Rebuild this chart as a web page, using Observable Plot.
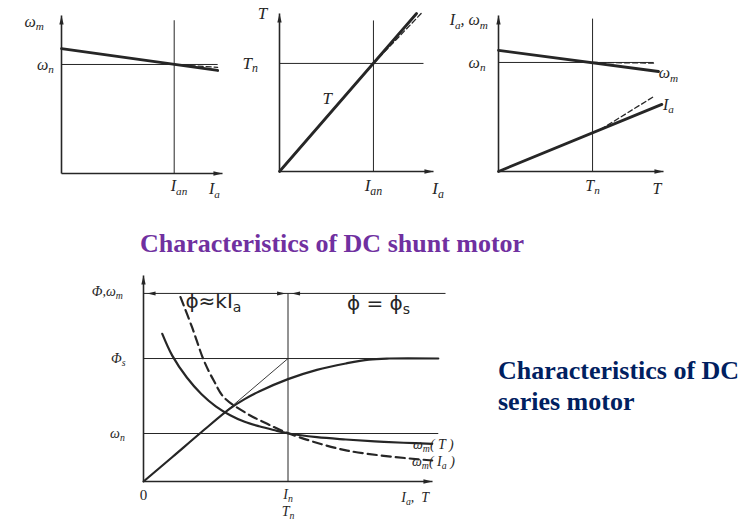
<!DOCTYPE html>
<html><head><meta charset="utf-8">
<script src="https://cdn.jsdelivr.net/npm/d3@7"></script>
<script src="https://cdn.jsdelivr.net/npm/@observablehq/plot@0.6"></script>
<style>
html,body{margin:0;padding:0;background:#fff;}
#wrap{position:relative;width:753px;height:522px;overflow:hidden;background:#fff;}
#wrap svg{position:absolute;left:0;top:0;}
.t{position:absolute;font-family:"Liberation Serif","Times New Roman",serif;font-weight:bold;font-size:26px;white-space:nowrap;}
</style></head><body><div id="wrap"></div>
<script>
// ---------- data (normalised units: 0..1 on each axis) ----------
// Shunt motor: speed vs armature current
const p1Rated = {Ian: 0.70, wn: 0.69};
const p1Speed = [{x: 0, y: 0.79}, {x: 0.97, y: 0.652}];
const p1SpeedIdeal = [{x: 0.70, y: 0.69}, {x: 0.97, y: 0.672}];
const p1Labels = [
  {x: -0.17, y: 0.96, t: "ω_m"}, {x: -0.10, y: 0.69, t: "ω_n"},
  {x: 0.73, y: -0.08, t: "I_{an}"}, {x: 0.95, y: -0.10, t: "I_a"}
];
// Shunt motor: torque vs armature current
const p2Rated = {Ian: 0.61, Tn: 0.684};
const p2Torque = [{x: 0, y: 0}, {x: 0.89, y: 1.0}];
const p2TorqueReal = [{x: 0.61, y: 0.684}, {x: 0.92, y: 1.0}];
const p2Labels = [
  {x: -0.11, y: 1.0, t: "T"}, {x: -0.19, y: 0.684, t: "T_n"},
  {x: 0.31, y: 0.46, t: "T"}, {x: 0.61, y: -0.09, t: "I_{an}"}, {x: 1.03, y: -0.11, t: "I_a"}
];
// Shunt motor: speed and current vs torque
const p3Rated = {Tn: 0.57, wn: 0.699};
const p3Speed = [{x: 0, y: 0.776}, {x: 0.97, y: 0.641}];
const p3SpeedIdeal = [{x: 0.57, y: 0.699}, {x: 0.94, y: 0.695}];
const p3Current = [{x: 0, y: 0}, {x: 0.99, y: 0.43}];
const p3CurrentIdeal = [{x: 0.62, y: 0.27}, {x: 0.94, y: 0.48}];
const p3Labels = [
  {x: -0.18, y: 0.97, t: "I_a, ω_m"}, {x: -0.13, y: 0.699, t: "ω_n"},
  {x: 1.03, y: 0.63, t: "ω_m", a: "start"}, {x: 1.03, y: 0.43, t: "I_a", a: "start"},
  {x: 0.57, y: -0.09, t: "T_n"}, {x: 0.96, y: -0.11, t: "T"}
];
// Series motor
const p4Rated = {In: 0.50, Phis: 0.597, wn: 0.233, top: 0.913};
const p4Flux = [
  {x: 0, y: 0}, {x: 0.1, y: 0.119}, {x: 0.2, y: 0.239}, {x: 0.3, y: 0.355},
  {x: 0.35, y: 0.40}, {x: 0.4, y: 0.437}, {x: 0.5, y: 0.497}, {x: 0.6, y: 0.542},
  {x: 0.7, y: 0.573}, {x: 0.78, y: 0.592}, {x: 0.85, y: 0.597}, {x: 1.02, y: 0.597}
];
const p4SpeedT = [
  {x: 0.065, y: 0.717}, {x: 0.10, y: 0.61}, {x: 0.15, y: 0.505}, {x: 0.20, y: 0.425},
  {x: 0.25, y: 0.365}, {x: 0.30, y: 0.322}, {x: 0.35, y: 0.29}, {x: 0.40, y: 0.268},
  {x: 0.45, y: 0.25}, {x: 0.503, y: 0.233}, {x: 0.60, y: 0.215}, {x: 0.70, y: 0.204},
  {x: 0.80, y: 0.195}, {x: 0.90, y: 0.188}, {x: 0.999, y: 0.183}
];
const p4SpeedIa = [
  {x: 0.128, y: 0.895}, {x: 0.168, y: 0.749}, {x: 0.209, y: 0.587}, {x: 0.243, y: 0.49},
  {x: 0.278, y: 0.409}, {x: 0.359, y: 0.329}, {x: 0.428, y: 0.28}, {x: 0.503, y: 0.233},
  {x: 0.705, y: 0.15}, {x: 0.999, y: 0.102}
];
const p4Labels = [
  {x: -0.125, y: 0.92, t: "Φ,ω_m"}, {x: -0.087, y: 0.597, t: "Φ_s"}, {x: -0.09, y: 0.233, t: "ω_n"},
  {x: 0.50, y: -0.065, t: "I_n"}, {x: 0.50, y: -0.145, t: "T_n"},
  {x: 0.94, y: -0.08, t: "I_a,  T"},
  {x: 1.003, y: 0.178, t: "ω_m( T )", a: "start"}, {x: 1.003, y: 0.097, t: "ω_m( I_a )", a: "start"}
];
const p4Origin = [{x: 0, y: -0.068, t: "0"}];
const p4Regions = [{x: 0.242, y: 0.872, t: "ϕ≈kI_a"}, {x: 0.813, y: 0.866, t: "ϕ = ϕ_s"}];
const titles = {shunt: "Characteristics of DC shunt motor", series: ["Characteristics of DC", "series motor"]};

// ---------- helpers ----------
const ink = "#262626";
const serif = "'Liberation Serif','DejaVu Serif',serif";
function tri(dir) {
  return {draw(ctx, size) {
    const s = Math.sqrt(size), L = s * 1.35, w = s * 0.32;
    const pts = {up: [[0,0],[w,L],[-w,L]], right: [[0,0],[-L,w],[-L,-w]], left: [[0,0],[L,w],[L,-w]]}[dir];
    ctx.moveTo(...pts[0]); ctx.lineTo(...pts[1]); ctx.lineTo(...pts[2]); ctx.closePath();
  }};
}
function seg(x1, y1, x2, y2, o = {}) {
  return Plot.link([{x1, y1, x2, y2}], {x1: "x1", y1: "y1", x2: "x2", y2: "y2", stroke: ink, strokeWidth: 1, ...o});
}
function axes() {
  return [
    seg(0, 0, 1, 0, {strokeWidth: 1.6}), seg(0, 0, 0, 1, {strokeWidth: 1.6}),
    Plot.dot([{x: 1, y: 0}], {x: "x", y: "y", symbol: tri("right"), r: 3.8, fill: ink, stroke: null}),
    Plot.dot([{x: 0, y: 1}], {x: "x", y: "y", symbol: tri("up"), r: 3.8, fill: ink, stroke: null})
  ];
}
function thick(data, o = {}) { return Plot.line(data, {x: "x", y: "y", stroke: ink, strokeWidth: 2.8, ...o}); }
function dashed(data, o = {}) { return Plot.line(data, {x: "x", y: "y", stroke: ink, strokeWidth: 1.3, strokeDasharray: "5,3", ...o}); }
function labels(data, size, italic = true) {
  return Plot.text(data, {x: "x", y: "y", text: "t", textAnchor: d => d.a || "middle",
    fontFamily: serif, fontStyle: italic ? "italic" : "normal", fontSize: size, fill: ink});
}
const NS = "http://www.w3.org/2000/svg";
function subify(svg) {
  svg.querySelectorAll("text").forEach(t => {
    const s = t.textContent;
    if (!s.includes("_")) return;
    t.textContent = "";
    let prevSub = false;
    for (const p of s.split(/(_\{[^}]*\}|_.)/)) {
      if (!p) continue;
      const ts = document.createElementNS(NS, "tspan");
      if (p.startsWith("_")) {
        ts.textContent = p.replace(/^_\{?/, "").replace(/\}$/, "");
        ts.setAttribute("font-size", "70%");
        ts.setAttribute("dy", "0.3em");
        prevSub = true;
      } else {
        ts.textContent = p;
        if (prevSub) ts.setAttribute("dy", "-0.21em");
        prevSub = false;
      }
      t.appendChild(ts);
    }
  });
}
const wrap = document.getElementById("wrap");
function panel(xr, yr, marks) {
  const svg = Plot.plot({width: 753, height: 522, margin: 0,
    x: {domain: [0, 1], range: xr, axis: null}, y: {domain: [0, 1], range: yr, axis: null},
    style: {background: "transparent", overflow: "visible"}, marks});
  subify(svg);
  wrap.appendChild(svg);
}

// ---------- panel 1 ----------
panel([61, 222], [173, 15], [
  ...axes(),
  seg(0, p1Rated.wn, 0.97, p1Rated.wn), seg(p1Rated.Ian, 0, p1Rated.Ian, 0.97),
  thick(p1Speed), dashed(p1SpeedIdeal),
  labels(p1Labels, 16)
]);
// ---------- panel 2 ----------
panel([279, 433], [171, 13], [
  ...axes(),
  seg(0, p2Rated.Tn, 0.935, p2Rated.Tn), seg(p2Rated.Ian, 0, p2Rated.Ian, 0.956),
  thick(p2Torque), dashed(p2TorqueReal),
  labels(p2Labels, 17)
]);
// ---------- panel 3 ----------
panel([498, 663], [171, 15], [
  ...axes(),
  seg(0, p3Rated.wn, 0.94, p3Rated.wn), seg(p3Rated.Tn, 0, p3Rated.Tn, 0.98),
  thick(p3Speed), dashed(p3SpeedIdeal), thick(p3Current), dashed(p3CurrentIdeal),
  labels(p3Labels, 16)
]);
// ---------- panel 4 (series) ----------
panel([143, 432], [481, 275], [
  ...axes(),
  seg(0, p4Rated.top, 1.045, p4Rated.top),
  Plot.dot([{x: 0.012, y: p4Rated.top}, {x: 0.512, y: p4Rated.top}], {x: "x", y: "y", symbol: tri("left"), r: 3.6, fill: ink, stroke: null}),
  Plot.dot([{x: 0.492, y: p4Rated.top}], {x: "x", y: "y", symbol: tri("right"), r: 3.6, fill: ink, stroke: null}),
  seg(p4Rated.In, 0, p4Rated.In, p4Rated.top),
  seg(0, p4Rated.Phis, 1.02, p4Rated.Phis), seg(0, p4Rated.wn, 1.02, p4Rated.wn),
  seg(0, 0, p4Rated.In, p4Rated.Phis, {strokeWidth: 0.9}),
  thick(p4Flux, {curve: "catmull-rom", strokeWidth: 2.2}),
  thick(p4SpeedT, {curve: "catmull-rom", strokeWidth: 2.2}),
  dashed(p4SpeedIa, {curve: "catmull-rom", strokeWidth: 2.2, strokeDasharray: "9,5"}),
  labels(p4Labels, 14),
  labels(p4Origin, 15, false),
  Plot.text(p4Regions, {x: "x", y: "y", text: "t", fontFamily: "'DejaVu Sans',sans-serif", fontSize: 20, fill: ink})
]);

// ---------- titles ----------
const t1 = document.createElement("div");
t1.className = "t"; t1.style.color = "#7030A0"; t1.style.left = "140px"; t1.style.top = "229px";
t1.textContent = titles.shunt; wrap.appendChild(t1);
const t2 = document.createElement("div");
t2.className = "t"; t2.style.color = "#002060"; t2.style.left = "498px"; t2.style.top = "355px"; t2.style.lineHeight = "31px";
t2.innerHTML = titles.series.join("<br>"); wrap.appendChild(t2);
</script></body></html>
